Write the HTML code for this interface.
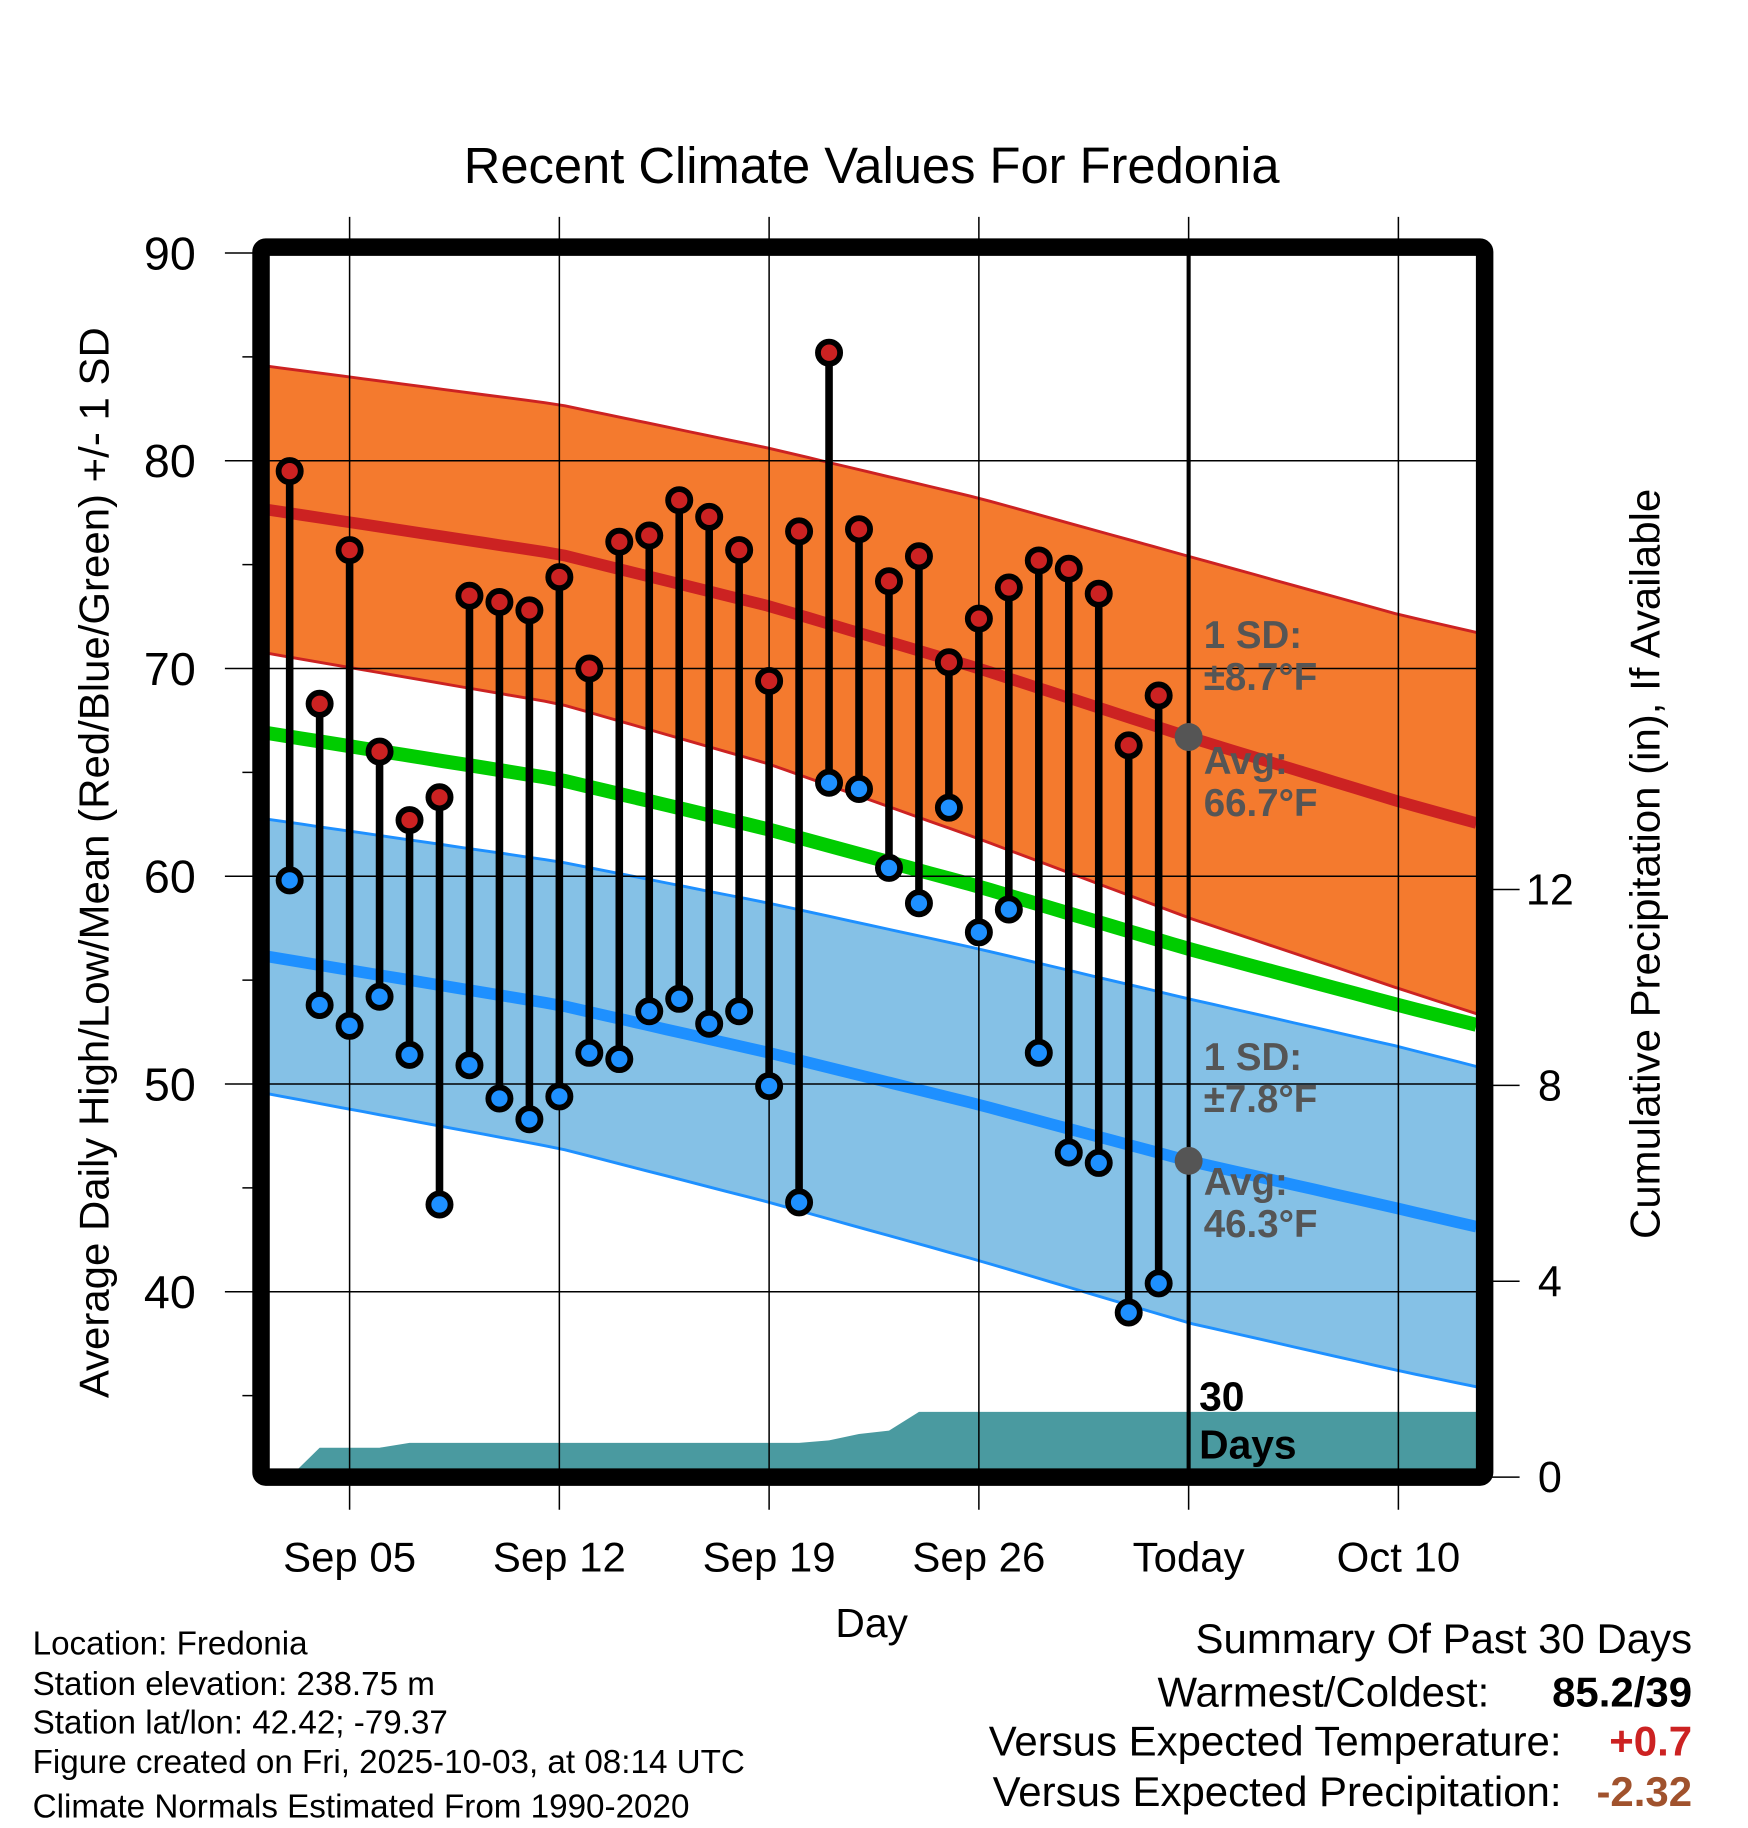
<!DOCTYPE html>
<html><head><meta charset="utf-8"><style>
html,body{margin:0;padding:0;background:#fff}
svg{display:block}
text{font-family:"Liberation Sans",sans-serif}
</style></head><body>
<svg id="chart" width="1748" height="1828" viewBox="0 0 1500 1568" preserveAspectRatio="none" xmlns="http://www.w3.org/2000/svg">
<text x="748" y="157" font-size="43.5" text-anchor="middle">Recent Climate Values For Fredonia</text>
<g id="bands"></g>
<g id="grid"></g>
<g id="marks"></g>
<rect x="224" y="212" width="1050" height="1055" fill="none" stroke="#000" stroke-width="15" rx="4"/>
<g id="axes"></g>
<text transform="translate(93,740) rotate(-90)" font-size="36" text-anchor="middle">Average Daily High/Low/Mean (Red/Blue/Green) +/- 1 SD</text>
<text transform="translate(1424,741) rotate(-90)" font-size="36" text-anchor="middle">Cumulative Precipitation (in), If Available</text>
<text x="748" y="1404" font-size="35" text-anchor="middle">Day</text>
<g font-size="28.5">
<text x="28" y="1419">Location: Fredonia</text>
<text x="28" y="1454">Station elevation: 238.75 m</text>
<text x="28" y="1487">Station lat/lon: 42.42; -79.37</text>
<text x="28" y="1521">Figure created on Fri, 2025-10-03, at 08:14 UTC</text>
<text x="28" y="1559">Climate Normals Estimated From 1990-2020</text>
</g>
<g font-size="36">
<text x="1452" y="1418" text-anchor="end">Summary Of Past 30 Days</text>
<text x="1278" y="1464" text-anchor="end">Warmest/Coldest:</text>
<text x="1452" y="1464" text-anchor="end" font-weight="bold">85.2/39</text>
<text x="1340" y="1506" text-anchor="end">Versus Expected Temperature:</text>
<text x="1452" y="1506" text-anchor="end" font-weight="bold" fill="#cc2222">+0.7</text>
<text x="1340" y="1549" text-anchor="end">Versus Expected Precipitation:</text>
<text x="1452" y="1549" text-anchor="end" font-weight="bold" fill="#a0522d">-2.32</text>
</g>
</svg>
<script>
// day index: Sep 1 = 1, Oct 1 = 31
const normDays = [2,12,19,26,33,40,43];
const avgHigh = [77.7,75.5,73.0,70.0,66.7,63.6,62.4];
const sdHigh = [6.9,7.2,7.6,8.2,8.7,9.0,9.2];
const avgLow = [56.2,53.8,51.5,49.0,46.3,44.0,43.0];
const sdLow = [6.6,6.9,7.2,7.5,7.8,7.8,7.7];
const obsDays = [3,4,5,6,7,8,9,10,11,12,13,14,15,16,17,18,19,20,21,22,23,24,25,26,27,28,29,30,31,32];
const highs = [79.5,68.3,75.7,66.0,62.7,63.8,73.5,73.2,72.8,74.4,70.0,76.1,76.4,78.1,77.3,75.7,69.4,76.6,85.2,76.7,74.2,75.4,70.3,72.4,73.9,75.2,74.8,73.6,66.3,68.7];
const lows = [59.8,53.8,52.8,54.2,51.4,44.2,50.9,49.3,48.3,49.4,51.5,51.2,53.5,54.1,52.9,53.5,49.9,44.3,64.5,64.2,60.4,58.7,63.3,57.3,58.4,51.5,46.7,46.2,39.0,40.4];
const precipCum = [0,0.6,0.6,0.6,0.7,0.7,0.7,0.7,0.7,0.7,0.7,0.7,0.7,0.7,0.7,0.7,0.7,0.7,0.75,0.88,0.95,1.33,1.33,1.33,1.33,1.33,1.33,1.33,1.33,1.33];
const yTicks = [40,50,60,70,80,90];
const y2Ticks = [0,4,8,12];
const xTickDays = [5,12,19,26,33,40];
const xTickLabels = ["Sep 05","Sep 12","Sep 19","Sep 26","Today","Oct 10"];
const todayDay = 33;

const NS="http://www.w3.org/2000/svg";
const X0=224, X1=1267, Y0=212, Y1=1267;
function xs(d){return 300+(d-5)*25.714;}
function ys(v){return 217+(90-v)*17.82;}
function yp(p){return 1267-p*42;}
function mk(tag,attrs,parent){const e=document.createElementNS(NS,tag);for(const k in attrs)e.setAttribute(k,attrs[k]);parent.appendChild(e);return e;}
function interp(arr,d){for(let i=0;i<normDays.length-1;i++){if(d<=normDays[i+1]){const t=(d-normDays[i])/(normDays[i+1]-normDays[i]);return arr[i]+t*(arr[i+1]-arr[i]);}}return arr[arr.length-1];}
const dL=5+(X0-300)/25.714, dR=5+(X1-300)/25.714;
const samp=[];for(let i=0;i<=60;i++)samp.push(dL+(dR-dL)*i/60);
function line(fn){return samp.map(d=>xs(d).toFixed(1)+","+ys(fn(d)).toFixed(1)).join(" ");}
function band(fa,fb){return samp.map(d=>xs(d).toFixed(1)+","+ys(fa(d)).toFixed(1)).concat(samp.slice().reverse().map(d=>xs(d).toFixed(1)+","+ys(fb(d)).toFixed(1))).join(" ");}
const hi=d=>interp(avgHigh,d), hs=d=>interp(sdHigh,d), lo=d=>interp(avgLow,d), ls=d=>interp(sdLow,d);
const B=document.getElementById('bands'), G=document.getElementById('grid'), M=document.getElementById('marks'), A=document.getElementById('axes');

let e;
e=mk('polygon',{points:band(d=>hi(d)+hs(d),d=>hi(d)-hs(d)),fill:'#f47a2e'},B);

e=mk('polygon',{points:band(d=>lo(d)+ls(d),d=>lo(d)-ls(d)),fill:'#85c1e6'},B);

[[d=>hi(d)+hs(d),'#cc2222',2.5,'high-band-upper'],[d=>hi(d)-hs(d),'#cc2222',2.5,'high-band-lower'],[d=>lo(d)+ls(d),'#1e90ff',2.5,'low-band-upper'],[d=>lo(d)-ls(d),'#1e90ff',2.5,'low-band-lower'],[hi,'#cc2222',10,'avg-high-line'],[d=>(hi(d)+lo(d))/2,'#00cc00',12,'avg-mean-line'],[lo,'#1e90ff',10,'avg-low-line']].forEach(c=>{
  const p=mk('polyline',{points:line(c[0]),fill:'none',stroke:c[1],'stroke-width':c[2]},B);
  
  
});
let pts=[xs(obsDays[0])+','+yp(0)];
obsDays.forEach((d,i)=>pts.push(xs(d).toFixed(1)+','+yp(precipCum[i]).toFixed(1)));
pts.push(X1+','+yp(precipCum[precipCum.length-1]).toFixed(1));pts.push(X1+','+Y1);
e=mk('polygon',{points:pts.join(' '),fill:'#4a9aa0'},B);


xTickDays.forEach(d=>{const l=mk('line',{x1:xs(d),x2:xs(d),y1:186,y2:1295,stroke:'#000','stroke-width':1.3},G);
  });
yTicks.forEach(v=>{const l=mk('line',{x1:193,x2:X1,y1:ys(v),y2:ys(v),stroke:'#000','stroke-width':1.3},G);
  });
for(let v=35;v<90;v+=10){const l=mk('line',{x1:208,x2:224,y1:ys(v),y2:ys(v),stroke:'#000','stroke-width':1.3},G);
  }
y2Ticks.forEach(p=>{const l=mk('line',{x1:1274,x2:1304,y1:yp(p),y2:yp(p),stroke:'#000','stroke-width':1.3},G);
  });

e=mk('line',{x1:xs(todayDay),x2:xs(todayDay),y1:Y0,y2:Y1,stroke:'#000','stroke-width':3.5},M);


obsDays.forEach((d,i)=>{
  const s=mk('line',{x1:xs(d),x2:xs(d),y1:ys(highs[i]),y2:ys(lows[i]),stroke:'#000','stroke-width':6.5},M);
  
});
obsDays.forEach((d,i)=>{
  const h=mk('circle',{cx:xs(d),cy:ys(highs[i]),r:9.5,fill:'#cc2222',stroke:'#000','stroke-width':5},M);
  
  const l=mk('circle',{cx:xs(d),cy:ys(lows[i]),r:9.5,fill:'#1e90ff',stroke:'#000','stroke-width':5},M);
  
});
const th=interp(avgHigh,todayDay), tl=interp(avgLow,todayDay);
e=mk('circle',{cx:xs(todayDay),cy:ys(th),r:12,fill:'#555'},M);

e=mk('circle',{cx:xs(todayDay),cy:ys(tl),r:12,fill:'#555'},M);

function txt(x,y,s,attrs,name,parent){const t=mk('text',Object.assign({x:x,y:y},attrs),parent);t.textContent=s;return t;}
const an={'font-size':33,'font-weight':'bold',fill:'#555'};
txt(1033,556,'1 SD:',an,'high-sd-label',M);
txt(1033,592,'±8.7°F',an,'high-sd-value',M);
txt(1033,664,'Avg:',an,'high-avg-label',M);
txt(1033,700,'66.7°F',an,'high-avg-value',M);
txt(1033,918,'1 SD:',an,'low-sd-label',M);
txt(1033,954,'±7.8°F',an,'low-sd-value',M);
txt(1033,1025,'Avg:',an,'low-avg-label',M);
txt(1033,1061,'46.3°F',an,'low-avg-value',M);
const bd={'font-size':35,'font-weight':'bold',fill:'#000'};
txt(1029,1210,'30',bd,'days-count-label',M);
txt(1029,1251,'Days',bd,'days-label',M);
yTicks.forEach(v=>txt(168,ys(v)+14,String(v),{'font-size':40,'text-anchor':'end'},'y-tick-label',A));
y2Ticks.forEach(p=>txt(1330,yp(p)+13,String(p),{'font-size':37,'text-anchor':'middle'},'y2-tick-label',A));
xTickDays.forEach((d,i)=>txt(xs(d),1348,xTickLabels[i],{'font-size':36,'text-anchor':'middle'},'x-tick-label',A));
</script>
</body></html>
